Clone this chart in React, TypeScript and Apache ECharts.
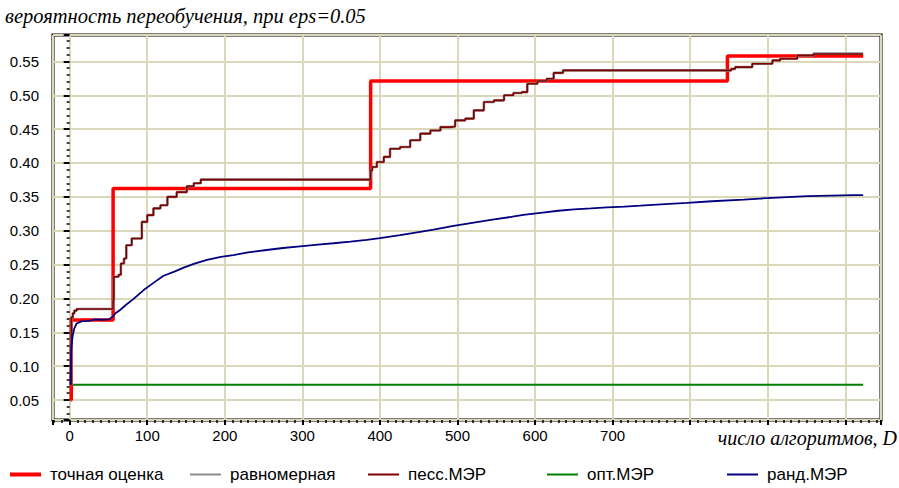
import React, { useEffect, useRef } from "react";
import * as echarts from "echarts";

// Step curves: each [D, value] pair holds its value until the next D.
const exactEstimate: [number, number][] = [
  [1, 0.05], [2, 0.168], [56, 0.3625], [388, 0.521], [848, 0.558], [1023, 0.558],
];

const pessimisticMER: [number, number][] = [
  [1, 0.0725], [2, 0.172], [4, 0.178], [6, 0.182], [9, 0.1845],
  [56, 0.198], [57, 0.232], [63, 0.235], [66, 0.2515], [70, 0.259], [73, 0.2785],
  [80, 0.2885], [93, 0.313], [100, 0.323], [108, 0.333], [117, 0.3375], [126, 0.35],
  [138, 0.357], [151, 0.3655], [160, 0.37], [169, 0.3755],
  [388, 0.389], [390, 0.394], [396, 0.4015], [405, 0.409], [413, 0.421], [426, 0.4236],
  [439, 0.4335], [452, 0.4433], [465, 0.448], [478, 0.453], [491, 0.454], [497, 0.463],
  [510, 0.4655], [521, 0.4777], [534, 0.49], [547, 0.4925], [560, 0.5], [572, 0.5033],
  [583, 0.5047], [590, 0.517], [603, 0.521], [615, 0.5245], [624, 0.533], [636, 0.5367],
  [853, 0.539], [858, 0.5416], [880, 0.5465], [906, 0.5515], [916, 0.554], [938, 0.5589],
  [959, 0.561], [1023, 0.561],
];

const uniform: [number, number][] = [
  [1, 0.0725], [2, 0.172], [4, 0.178], [6, 0.182], [9, 0.1845],
  [56, 0.198], [57, 0.232], [63, 0.235], [66, 0.2515], [70, 0.259], [73, 0.2785],
  [80, 0.2885], [93, 0.313], [100, 0.323], [108, 0.333], [117, 0.3375], [126, 0.35],
  [138, 0.357], [151, 0.3655], [160, 0.37], [169, 0.3755],
  [388, 0.389], [390, 0.394], [396, 0.4015], [405, 0.409], [413, 0.421], [426, 0.4236],
  [439, 0.4335], [452, 0.4433], [465, 0.448], [478, 0.453], [491, 0.454], [497, 0.463],
  [510, 0.4655], [521, 0.4777], [534, 0.49], [547, 0.4925], [560, 0.5], [572, 0.5033],
  [583, 0.5047], [590, 0.517], [603, 0.521], [615, 0.5245], [624, 0.533], [636, 0.5367],
  [853, 0.539], [858, 0.5416], [880, 0.5465], [906, 0.5515], [916, 0.554], [938, 0.5589],
  [959, 0.5615], [1023, 0.5615],
];

const optimalMER: [number, number][] = [
  [1, 0.0725], [1023, 0.0725],
];

const randomMER: [number, number][] = [
  [1, 0.0725], [2, 0.126], [4, 0.146], [6, 0.156], [9, 0.163], [16, 0.1665],
  [25, 0.167], [33, 0.169], [42, 0.1685], [50, 0.169], [55, 0.1725], [59, 0.178],
  [65, 0.183], [72, 0.19], [82, 0.199], [95, 0.212], [108, 0.223], [121, 0.2335],
  [135, 0.2395], [147, 0.2455], [160, 0.251], [177, 0.257], [195, 0.2615], [211, 0.264],
  [230, 0.268], [254, 0.2715], [275, 0.2745], [297, 0.277], [320, 0.2795], [340, 0.2815],
  [362, 0.284], [383, 0.2865], [400, 0.289], [426, 0.2935], [450, 0.298], [469, 0.3015],
  [495, 0.307], [521, 0.312], [545, 0.3165], [564, 0.3195], [585, 0.3235], [607, 0.3265],
  [630, 0.3295], [650, 0.3315], [672, 0.333], [693, 0.3345], [715, 0.3355], [736, 0.337],
  [762, 0.339], [796, 0.341], [828, 0.3435], [869, 0.346], [912, 0.349], [951, 0.351],
  [1011, 0.3525], [1023, 0.3525],
];

const seriesNames = ["точная оценка", "равномерная", "песс.МЭР", "опт.МЭР", "ранд.МЭР"];
const xLabelsShown = [0, 100, 200, 300, 400, 500, 600, 700];

const TITLE = "вероятность переобучения, при eps=0.05";
const X_NAME = "число алгоритмов, D";

const SANS = "'Liberation Sans', Arial, sans-serif";
const SERIF = "'Liberation Serif', 'Times New Roman', serif";

const GRID_COLOR = "#dbd8b9";

export default function App() {
  const ref = useRef<HTMLDivElement>(null);

  useEffect(() => {
    if (!ref.current) return;
    const chart = echarts.init(ref.current, null, { renderer: "svg" });

    const legendLefts = [10, 190, 368, 547, 727];
    const legendHeights = [4, 2, 2, 2, 2];

    chart.setOption({
      animation: false,
      backgroundColor: "#ffffff",
      title: {
        text: TITLE,
        left: 5,
        top: 6,
        padding: 0,
        textStyle: {
          fontFamily: SERIF,
          fontStyle: "italic",
          fontWeight: "normal",
          fontSize: 20.5,
          color: "#000",
        },
      },
      legend: seriesNames.map((name, i) => ({
        data: [name],
        left: legendLefts[i],
        top: 466,
        padding: 0,
        icon: "rect",
        itemWidth: 31,
        itemHeight: legendHeights[i],
        selectedMode: false,
        textStyle: {
          fontFamily: SANS,
          fontSize: 17,
          color: "#000",
          padding: [0, 0, 0, 4],
        },
      })),
      grid: {
        left: 53,
        top: 35,
        right: 18,
        bottom: 68,
        show: true,
        borderColor: "#000",
        borderWidth: 3,
        backgroundColor: "#fff",
      },
      graphic: [
        {
          type: "text",
          right: 2,
          top: 428,
          style: {
            text: X_NAME,
            font: `italic 20px ${SERIF}`,
            fill: "#000",
          },
        },
      ],
      xAxis: {
        type: "value",
        min: -21.5,
        max: 1046,
        splitNumber: 10,
        minInterval: 100,
        maxInterval: 100,
        axisLine: { show: false },
        axisTick: { show: true, length: 5, lineStyle: { color: "#000", width: 2 } },
        minorTick: { show: true, splitNumber: 10, length: 3, lineStyle: { color: "#000", width: 1.5 } },
        splitLine: { show: true, lineStyle: { color: GRID_COLOR, width: 2 } },
        axisLabel: {
          margin: 8,
          fontFamily: SANS,
          fontSize: 15,
          color: "#000",
          formatter: (v: number) => (xLabelsShown.includes(Math.round(v)) && Math.abs(v - Math.round(v)) < 1e-6 ? String(Math.round(v)) : ""),
        },
      },
      yAxis: {
        type: "value",
        min: 0.0205,
        max: 0.589,
        splitNumber: 11,
        minInterval: 0.05,
        maxInterval: 0.05,
        axisLine: { show: false },
        axisTick: { show: true, length: 6, lineStyle: { color: "#000", width: 2 } },
        minorTick: { show: true, splitNumber: 5, length: 3, lineStyle: { color: "#000", width: 1.5 } },
        splitLine: { show: true, lineStyle: { color: GRID_COLOR, width: 2 } },
        axisLabel: {
          margin: 14,
          fontFamily: SANS,
          fontSize: 15,
          color: "#000",
          formatter: (v: number) => {
            const k = v * 20;
            return Math.abs(k - Math.round(k)) < 1e-6 ? v.toFixed(2) : "";
          },
        },
      },
      series: [
        {
          name: seriesNames[0],
          type: "line",
          step: "end",
          data: exactEstimate,
          showSymbol: false,
          color: "#ff0000",
          lineStyle: { color: "#ff0000", width: 3.5 },
          z: 2,
        },
        {
          name: seriesNames[1],
          type: "line",
          step: "end",
          data: uniform,
          showSymbol: false,
          color: "#8c8c8c",
          lineStyle: { color: "#8c8c8c", width: 2.6 },
          z: 3,
        },
        {
          name: seriesNames[2],
          type: "line",
          step: "end",
          data: pessimisticMER,
          showSymbol: false,
          color: "#800000",
          lineStyle: { color: "#800000", width: 1.6 },
          z: 4,
        },
        {
          name: seriesNames[3],
          type: "line",
          data: optimalMER,
          showSymbol: false,
          color: "#008000",
          lineStyle: { color: "#008000", width: 2 },
          z: 1,
        },
        {
          name: seriesNames[4],
          type: "line",
          data: randomMER,
          showSymbol: false,
          color: "#000080",
          lineStyle: { color: "#000080", width: 1.8 },
          z: 5,
        },
      ],
    });

    return () => chart.dispose();
  }, []);

  return (
    <div
      ref={ref}
      style={{ position: "absolute", left: 0, top: 0, width: 899, height: 488, background: "#fff" }}
    />
  );
}
